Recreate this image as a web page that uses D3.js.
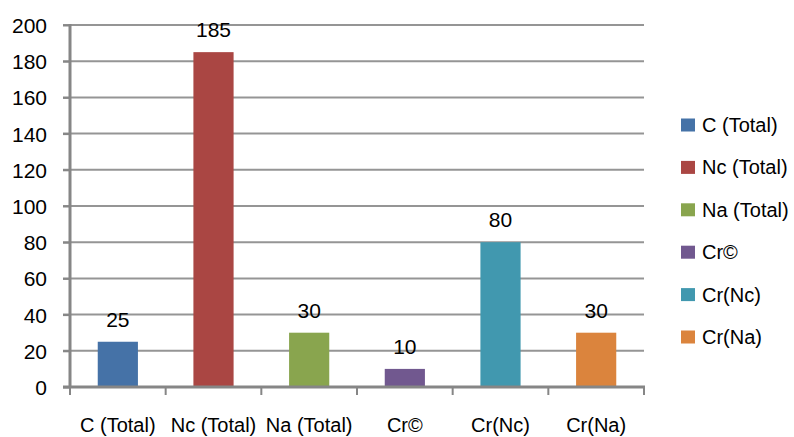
<!DOCTYPE html>
<html>
<head>
<meta charset="utf-8">
<script src="https://cdn.jsdelivr.net/npm/d3@7"></script>
<style>
  html, body { margin: 0; padding: 0; background: #fff; }
  svg { display: block; font-family: "Liberation Sans", Arial, sans-serif; }
</style>
</head>
<body>
<svg id="chart" width="794" height="437"></svg>
<script>
// Category names, values and bar colours
const categories = ["C (Total)", "Nc (Total)", "Na (Total)", "Cr©", "Cr(Nc)", "Cr(Na)"];
const values = [25, 185, 30, 10, 80, 30];
const colors = ["#4572A7", "#AA4643", "#89A54E", "#71588F", "#4198AF", "#DB843D"];
const yTicks = [0, 20, 40, 60, 80, 100, 120, 140, 160, 180, 200];

const svg = d3.select("#chart");
const plot = { left: 70, right: 644, top: 25, bottom: 387 };
const axisColor = "#868686";
const gridColor = "#959595";

const x = d3.scaleBand()
  .domain(categories)
  .range([plot.left, plot.right])
  .paddingInner(0.58)
  .paddingOuter(0.29);

const y = d3.scaleLinear()
  .domain([0, 200])
  .range([plot.bottom, plot.top]);

// Horizontal gridlines
svg.append("g")
  .selectAll("line")
  .data(yTicks.filter(d => d > 0))
  .join("line")
  .attr("x1", plot.left - 7)
  .attr("x2", plot.right)
  .attr("y1", d => y(d))
  .attr("y2", d => y(d))
  .attr("stroke", gridColor)
  .attr("stroke-width", 2);

// Y axis
const yAxis = d3.axisLeft(y)
  .tickValues(yTicks)
  .tickSize(7)
  .tickPadding(16)
  .tickFormat(d3.format("d"));

const gy = svg.append("g")
  .attr("transform", `translate(${plot.left},0)`)
  .call(yAxis);
gy.select(".domain").attr("stroke", axisColor).attr("stroke-width", 3)
  .attr("d", `M0,${plot.top - 1}V${plot.bottom}`);
gy.selectAll(".tick line").attr("stroke", axisColor).attr("stroke-width", 2);
gy.selectAll(".tick text")
  .attr("fill", "#000")
  .attr("dy", "0.36em")
  .style("font-size", "21px")
  .style("font-family", "'Liberation Sans', Arial, sans-serif");

// Bars
svg.append("g")
  .selectAll("rect")
  .data(categories)
  .join("rect")
  .attr("x", d => x(d))
  .attr("width", x.bandwidth())
  .attr("y", (d, i) => y(values[i]))
  .attr("height", (d, i) => y(0) - y(values[i]))
  .attr("fill", (d, i) => colors[i]);

// X axis with ticks at band boundaries
const step = x.step();
const boundaries = d3.range(categories.length + 1).map(i => plot.left + i * step);
const gx = svg.append("g");
gx.append("line")
  .attr("x1", plot.left - 7)
  .attr("x2", plot.right + 1)
  .attr("y1", plot.bottom)
  .attr("y2", plot.bottom)
  .attr("stroke", axisColor)
  .attr("stroke-width", 3);
gx.selectAll("line.tk")
  .data(boundaries)
  .join("line")
  .attr("class", "tk")
  .attr("x1", d => d)
  .attr("x2", d => d)
  .attr("y1", plot.bottom)
  .attr("y2", plot.bottom + 8)
  .attr("stroke", axisColor)
  .attr("stroke-width", 2);
gx.selectAll("text")
  .data(categories)
  .join("text")
  .attr("x", d => x(d) + x.bandwidth() / 2)
  .attr("y", 432)
  .attr("text-anchor", "middle")
  .attr("font-size", 20)
  .attr("fill", "#000")
  .text(d => d);

// Value labels above bars
svg.append("g")
  .selectAll("text")
  .data(categories)
  .join("text")
  .attr("x", d => x(d) + x.bandwidth() / 2)
  .attr("y", (d, i) => y(values[i]) - 15)
  .attr("text-anchor", "middle")
  .attr("font-size", 21)
  .attr("fill", "#000")
  .text((d, i) => values[i]);

// Legend
const legend = svg.append("g").attr("transform", "translate(681,125)");
const rows = legend.selectAll("g")
  .data(categories)
  .join("g")
  .attr("transform", (d, i) => `translate(0,${i * 42.4})`);
rows.append("rect")
  .attr("x", 0)
  .attr("y", -6.5)
  .attr("width", 14)
  .attr("height", 13)
  .attr("fill", (d, i) => colors[i]);
rows.append("text")
  .attr("x", 21)
  .attr("y", 7)
  .attr("font-size", 20)
  .attr("fill", "#000")
  .text(d => d);
</script>
</body>
</html>
